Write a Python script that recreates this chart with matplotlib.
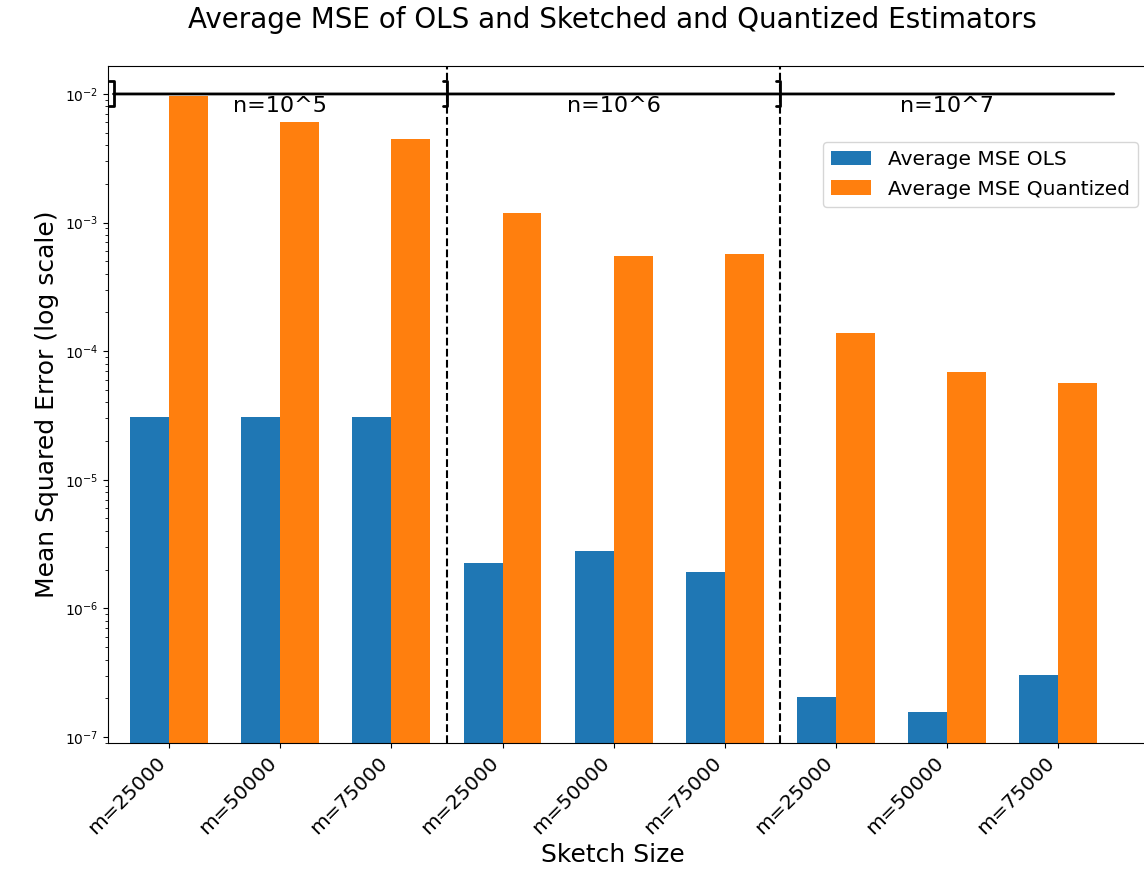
import numpy as np
import matplotlib
matplotlib.use('Agg')
import matplotlib.pyplot as plt

# MSE per sketch size, three blocks of n
sketch_labels = ['m=25000', 'm=50000', 'm=75000'] * 3
n_labels = ['n=10^5', 'n=10^6', 'n=10^7']
mse_ols = [3.05e-5, 3.1e-5, 3.1e-5,
           2.25e-6, 2.8e-6, 1.9e-6,
           2.05e-7, 1.55e-7, 3.05e-7]
mse_quant = [9.7e-3, 6.05e-3, 4.5e-3,
             1.19e-3, 5.5e-4, 5.7e-4,
             1.38e-4, 6.9e-5, 5.7e-5]

x = np.arange(len(sketch_labels))
width = 0.35

fig = plt.figure(figsize=(11.44, 8.69), dpi=100)
ax = fig.add_axes([108/1144, 126/869, 0.918, 677/869])

ax.bar(x - width/2, mse_ols, width, label='Average MSE OLS')
ax.bar(x + width/2, mse_quant, width, label='Average MSE Quantized')
ax.set_yscale('log')
ax.set_ylim(8.97e-8, 1.65e-2)
ax.set_xlim(-0.55, 8.9)

# group separators and brackets with n labels
for b in [2.5, 5.5]:
    ax.axvline(b, color='black', linestyle='--', lw=1.5)
line_y = 1e-2
for i, lab in enumerate(n_labels):
    start = 3*i - 0.5
    ax.annotate('', xy=(start + 3, line_y), xytext=(start, line_y),
                arrowprops=dict(arrowstyle=']-, widthA=1.0, lengthA=0.35', lw=2,
                                color='black', mutation_scale=9,
                                shrinkA=0, shrinkB=0))
    ax.text(3*i + 1, 8.1e-3, lab, ha='center', va='center', fontsize=16)

ax.set_xticks(x)
ax.set_xticklabels(sketch_labels, rotation=45, ha='right', fontsize=14.5)
ax.set_ylabel('Mean Squared Error (log scale)', fontsize=18)
ax.set_xlabel('Sketch Size', fontsize=18)
ax.xaxis.set_label_coords(0.4806, -0.148)
ax.set_title('Average MSE of OLS and Sketched and Quantized Estimators',
             fontsize=20, x=0.4806, pad=27)
ax.legend(fontsize=14.5, loc='upper right', bbox_to_anchor=(0.99, 0.902))

fig.savefig('out.png', dpi=100)
